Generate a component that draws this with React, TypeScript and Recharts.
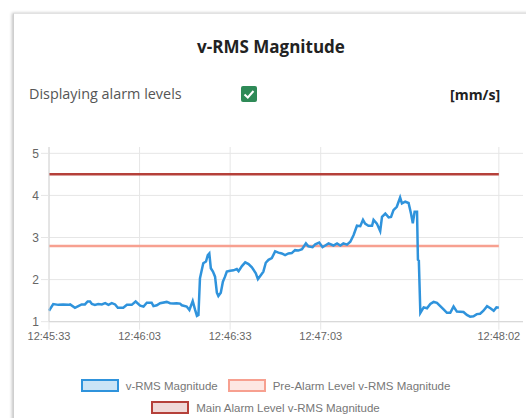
import React from "react";
import { ComposedChart, Line, XAxis, YAxis, CartesianGrid } from "recharts";

// seconds after 12:45:33
const times: number[] = [
  0.0, 1.4, 3.1, 4.7, 6.4, 7.0, 8.6, 9.7, 10.8, 11.9, 12.8, 13.6, 14.2, 15.2, 16.3, 17.5, 18.6, 19.7, 20.8, 21.9,
  22.8, 24.6, 25.8, 27.4, 28.7, 30.2, 31.3, 32.4, 34.0, 34.6, 35.7, 36.8, 39.0, 40.1, 41.2, 42.3, 43.4, 44.0, 45.6, 46.5,
  47.6, 48.4, 49.0, 49.5, 50.0, 50.6, 51.1, 52.0, 52.6, 53.1, 53.6, 54.3, 55.0, 55.6, 56.1, 56.9, 57.6, 58.3, 58.9, 60.0,
  61.1, 62.2, 62.8, 63.9, 65.0, 66.1, 67.2, 68.5, 69.2, 69.9, 71.0, 71.8, 72.7, 73.8, 74.9, 76.0, 77.1, 78.2, 79.3, 80.4,
  81.5, 82.6, 83.8, 85.1, 85.9, 87.3, 88.2, 89.5, 90.6, 91.5, 92.6, 94.2, 95.4, 96.5, 97.5, 98.7, 99.8, 100.9, 102.0, 103.1,
  104.0, 104.7, 105.8, 107.0, 107.5, 108.6, 109.7, 110.3, 111.4, 112.5, 113.3, 114.1, 115.2, 116.3, 116.9, 118.0, 119.1, 119.9, 120.5, 121.1,
  121.9, 122.2, 122.5, 123.0, 124.1, 125.2, 126.3, 127.4, 128.5, 129.6, 130.7, 131.8, 132.9, 134.0, 135.1, 137.3, 138.4, 139.5, 140.6, 141.7,
  142.8, 143.9, 145.1, 146.2, 147.3, 148.2, 149.0,
];

const vrms: number[] = [
  1.26, 1.42, 1.40, 1.41, 1.40, 1.41, 1.33, 1.37, 1.41, 1.41, 1.48, 1.48, 1.42, 1.40, 1.42, 1.41, 1.44, 1.40, 1.44, 1.41,
  1.33, 1.33, 1.40, 1.40, 1.48, 1.38, 1.36, 1.45, 1.45, 1.37, 1.39, 1.44, 1.47, 1.44, 1.43, 1.44, 1.43, 1.39, 1.36, 1.28,
  1.49, 1.28, 1.14, 1.16, 2.03, 2.23, 2.39, 2.43, 2.58, 2.62, 2.27, 2.19, 2.07, 1.69, 1.61, 1.69, 1.95, 2.07, 2.19, 2.21,
  2.22, 2.25, 2.20, 2.32, 2.41, 2.37, 2.29, 2.15, 2.01, 2.08, 2.19, 2.40, 2.47, 2.51, 2.67, 2.64, 2.62, 2.58, 2.62, 2.63,
  2.70, 2.69, 2.72, 2.86, 2.79, 2.77, 2.84, 2.88, 2.77, 2.81, 2.86, 2.81, 2.86, 2.81, 2.86, 2.83, 2.90, 3.06, 3.28, 3.27,
  3.42, 3.33, 3.28, 3.28, 3.42, 3.33, 3.15, 3.49, 3.57, 3.48, 3.49, 3.65, 3.73, 3.95, 3.81, 3.85, 3.82, 3.57, 3.34, 3.61,
  3.61, 2.47, 2.45, 1.21, 1.34, 1.32, 1.42, 1.47, 1.45, 1.37, 1.29, 1.21, 1.21, 1.36, 1.24, 1.23, 1.16, 1.12, 1.13, 1.18,
  1.19, 1.26, 1.37, 1.32, 1.26, 1.34, 1.33,
];

const PRE_ALARM = 2.8;
const MAIN_ALARM = 4.5;

const xTicks: number[] = [0, 30, 60, 90, 149];
const yTicks: number[] = [1, 2, 3, 4, 5];
const START_SECONDS = 12 * 3600 + 45 * 60 + 33;

const seriesNames: string[] = [
  "v-RMS Magnitude",
  "Pre-Alarm Level v-RMS Magnitude",
  "Main Alarm Level v-RMS Magnitude",
];

const data = times.map((t, i) => ({ t, v: vrms[i], pre: PRE_ALARM, main: MAIN_ALARM }));

const fmt = (t: number) => {
  const s = START_SECONDS + Math.round(t);
  const hh = Math.floor(s / 3600);
  const mm = Math.floor((s % 3600) / 60);
  const ss = s % 60;
  const p = (n: number) => String(n).padStart(2, "0");
  return `${hh}:${p(mm)}:${p(ss)}`;
};

const BLUE = "#2f93dc";
const PINK = "#f7a090";
const DARKRED = "#b5403a";

const LegendItem = ({ name, stroke, fill }: { name: string; stroke: string; fill: string }) => (
  <div style={{ display: "flex", alignItems: "center", margin: "0 5px" }}>
    <div
      style={{
        width: 34,
        height: 9,
        border: `2px solid ${stroke}`,
        background: fill,
        marginRight: 7,
      }}
    />
    <span style={{ fontFamily: "'Liberation Sans', Arial, sans-serif", fontSize: 11.5, color: "#777" }}>{name}</span>
  </div>
);

export default function App() {
  return (
    <div style={{ position: "absolute", left: 0, top: 0, width: 526, height: 418, overflow: "hidden", background: "#fff" }}>
      <div
        style={{
          position: "absolute",
          left: 13,
          top: 13,
          width: 600,
          height: 500,
          borderTop: "1px solid #e2e2e2",
          borderLeft: "1px solid #cfcfcf",
          boxShadow: "-1px 0 3px rgba(0,0,0,0.25)",
          background: "#fff",
        }}
      />
      <div
        style={{
          position: "absolute",
          left: 0,
          width: 542,
          top: 35,
          textAlign: "center",
          fontFamily: "'Open Sans', sans-serif",
          fontWeight: 700,
          fontSize: 17,
          color: "#222",
        }}
      >
        v-RMS Magnitude
      </div>
      <div
        style={{
          position: "absolute",
          left: 29,
          top: 84,
          fontFamily: "'Open Sans', sans-serif",
          fontSize: 14.4,
          color: "#555",
        }}
      >
        Displaying alarm levels
      </div>
      <div
        style={{
          position: "absolute",
          left: 241,
          top: 86,
          width: 16,
          height: 16,
          borderRadius: 2,
          background: "#2e8a57",
        }}
      >
        <svg width={16} height={16}>
          <path d="M3.5 8.5 L6.8 11.5 L12.5 5" stroke="#fff" strokeWidth={2} fill="none" />
        </svg>
      </div>
      <div
        style={{
          position: "absolute",
          left: 450,
          top: 85,
          fontFamily: "'Open Sans', sans-serif",
          fontWeight: 700,
          fontSize: 14.2,
          color: "#222",
        }}
      >
        [mm/s]
      </div>

      <div style={{ position: "absolute", left: 0, top: 0 }}>
        <ComposedChart width={526} height={418} data={data} margin={{ top: 147, right: 3, left: 0, bottom: 66.3 }}>
          <CartesianGrid stroke="#e6e6e6" horizontalValues={yTicks} verticalValues={xTicks} />
          <XAxis
            dataKey="t"
            type="number"
            domain={[0, 157]}
            ticks={xTicks}
            tickFormatter={fmt}
            height={30}
            tickSize={8}
            axisLine={{ stroke: "#d6d6d6" }}
            tickLine={{ stroke: "#e6e6e6" }}
            tick={{ fill: "#666", fontSize: 11, fontFamily: "'Liberation Sans', Arial, sans-serif" }}
            interval={0}
          />
          <YAxis
            type="number"
            domain={[1, 5.15]}
            ticks={yTicks}
            width={49}
            tickSize={8}
            axisLine={{ stroke: "#d6d6d6" }}
            tickLine={{ stroke: "#e6e6e6" }}
            tick={{ fill: "#666", fontSize: 12, fontFamily: "'Liberation Sans', Arial, sans-serif" }}
            allowDataOverflow
          />
          <Line dataKey="main" name={seriesNames[2]} stroke={DARKRED} strokeWidth={2.5} dot={false} isAnimationActive={false} />
          <Line dataKey="pre" name={seriesNames[1]} stroke={PINK} strokeWidth={2.5} dot={false} isAnimationActive={false} />
          <Line
            dataKey="v"
            name={seriesNames[0]}
            stroke={BLUE}
            strokeWidth={2.5}
            dot={false}
            type="linear"
            isAnimationActive={false}
          />
        </ComposedChart>
      </div>

      <div style={{ position: "absolute", left: 0, width: 531, top: 379, display: "flex", justifyContent: "center" }}>
        <LegendItem name={seriesNames[0]} stroke={BLUE} fill="rgba(47,147,220,0.25)" />
        <LegendItem name={seriesNames[1]} stroke={PINK} fill="rgba(247,160,144,0.25)" />
      </div>
      <div style={{ position: "absolute", left: 0, width: 531, top: 401, display: "flex", justifyContent: "center" }}>
        <LegendItem name={seriesNames[2]} stroke={DARKRED} fill="rgba(181,64,58,0.2)" />
      </div>
    </div>
  );
}
